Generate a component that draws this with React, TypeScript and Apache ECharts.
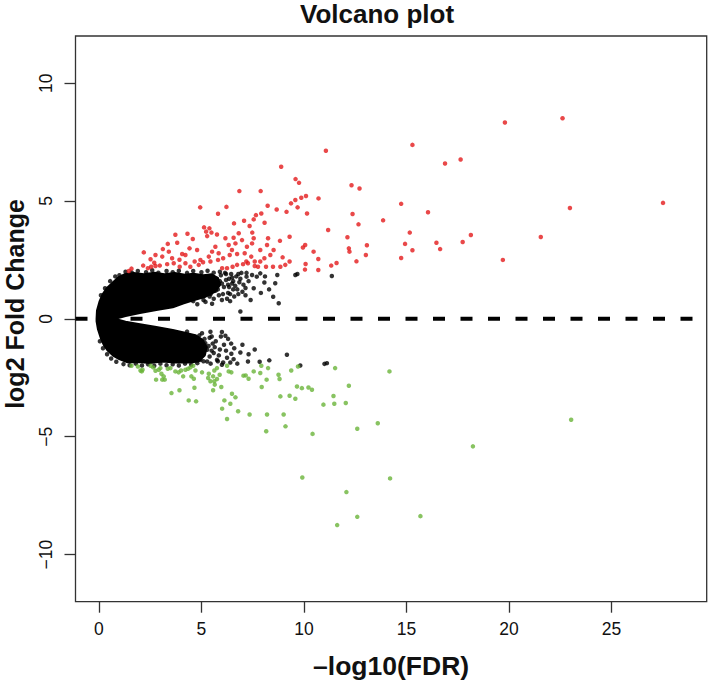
import React, { useEffect, useRef } from "react";
import * as echarts from "echarts";

const X_MIN = -1.14;
const X_MAX = 29.64;
const Y_MIN = -12;
const Y_MAX = 12;
const xTicks = [0, 5, 10, 15, 20, 25];
const yTicks = [-10, -5, 0, 5, 10];
const thresholdLine = [[X_MIN, 0], [X_MAX, 0]];

// up-regulated genes (red)
const upRegulated = [
  [11.07,7.13],[8.89,6.45],[9.59,5.93],[9.76,5.77],[6.85,5.42],[7.89,5.42],[12.32,5.67],[12.71,5.53],[10.1,5.21],[9.87,5.14],
  [9.58,5.04],[9.69,4.73],[9.37,4.9],[10.71,5.11],[8.23,4.8],[8.67,4.64],[4.94,4.73],[6.22,4.75],[5.81,4.46],[7.66,4.4],
  [7.55,4.22],[7.92,4.47],[7.08,4.16],[10.15,4.47],[9.15,4.54],[12.37,4.45],[12.66,4.01],[13.86,4.18],[11.18,3.77],[8.08,4.08],
  [6.59,4.05],[7.35,3.94],[3.73,3.57],[4.32,3.61],[5.13,3.88],[5.39,3.84],[5.23,3.7],[5.49,3.66],[4.58,3.39],[3.82,3.23],
  [5.28,3.51],[5.76,3.58],[6.17,3.42],[6.57,3.44],[6.82,3.63],[7.48,3.66],[7.55,3.42],[8.25,3.42],[9.3,3.48],[8.83,3.31],
  [12.12,3.46],[13.07,3.12],[12.19,2.99],[12.22,2.85],[10.06,3.13],[9.95,3.03],[10.47,2.85],[13.02,2.71],[12.56,2.44],[10.7,2.54],
  [11.33,2.26],[11.59,2.37],[10.08,2.33],[10.05,2.09],[10.7,2.07],[8.96,2.61],[9.3,2.43],[8.85,2.21],[8.15,2.21],[7.87,2.43],
  [8.07,2.57],[7.6,2.43],[7.43,2.64],[7.6,2.24],[7.19,2.43],[7.11,2.78],[6.74,2.75],[6.38,2.71],[6.06,2.57],[5.84,2.78],
  [5.81,2.5],[5.44,2.43],[4.95,2.5],[4.79,2.92],[4.42,2.99],[4.22,2.71],[4.06,2.75],[3.93,2.51],[3.57,2.57],[3.41,2.85],
  [3.36,3.18],[3.12,2.96],[3.09,2.64],[2.76,2.71],[2.52,2.53],[2.7,2.38],[2.19,2.82],[2.16,2.26],[2.39,2.15],[2.55,2.21],
  [2.76,2.24],[2.97,2.26],[1.59,2.13],[1.46,2.03],[3.33,2.32],[3.65,2.36],[3.94,2.21],[4.22,2.36],[4.46,2.21],[4.67,2.43],
  [4.87,2.29],[5.08,2.4],[5.36,2.64],[5.52,2.85],[5.68,3.06],[6.33,3.13],[6.49,2.92],[6.66,3.2],[6.98,3.34],[7.22,3.06],
  [7.47,3.2],[7.87,2.92],[8.2,3.13],[8.52,2.92],[8.36,2.71],[6.52,2.21],[6.74,2.29],[7.03,2.32],[6.25,2.15],[6.01,2.15],
  [7.27,2.36],[7.76,2.21],[8.49,2.21],[9.09,2.29],
  [19.8,8.33],[22.61,8.51],[15.29,7.38],[16.88,6.59],[17.64,6.76],[14.74,4.88],[27.51,4.92],[22.97,4.7],[16.05,4.52],[15.16,3.66],
  [14.93,3.18],[15.29,2.91],[14.74,2.58],[16.46,3.23],[16.64,2.96],[17.74,3.26],[18.14,3.56],[21.55,3.47],[19.7,2.5]
];

// down-regulated genes (green)
const downRegulated = [
  [1.59,-1.99],[1.9,-2.02],[2.03,-2.19],[2.13,-2.16],[2.09,-2.23],[2.52,-1.99],[2.65,-2.06],[2.76,-2.2],[2.92,-2.16],[3.0,-2.09],
  [3.05,-2.33],[3.16,-2.44],[3.09,-2.58],[2.79,-2.58],[3.21,-2.58],[3.36,-2.12],[3.49,-2.09],[3.73,-2.23],[3.89,-2.27],[4.01,-2.19],
  [4.22,-2.16],[4.35,-2.12],[4.46,-2.06],[4.6,-1.99],[4.71,-2.19],[4.11,-2.44],[4.51,-2.44],[4.63,-2.54],[5.03,-2.27],[5.36,-2.33],
  [5.57,-2.44],[5.63,-2.19],[5.76,-2.09],[6.25,-1.99],[6.33,-2.23],[6.46,-2.27],[5.89,-2.37],[5.33,-2.51],[5.44,-2.65],[5.63,-2.65],
  [5.76,-2.55],[5.97,-2.89],[5.57,-3.03],[5.65,-2.79],[4.66,-2.92],[3.93,-3.03],[3.54,-3.15],[4.38,-3.46],[4.74,-3.5],[6.12,-3.46],
  [6.01,-3.81],[6.25,-4.25],[6.41,-3.6],[6.49,-3.18],[6.66,-3.33],[6.79,-3.92],[7.05,-2.41],[7.16,-2.4],[7.3,-2.54],[7.55,-2.23],
  [7.87,-2.3],[7.94,-2.89],[8.18,-2.58],[8.25,-2.09],[7.92,-1.99],[8.76,-2.37],[8.81,-2.55],[8.85,-3.29],[9.3,-3.26],[9.38,-2.19],
  [9.58,-3.39],[9.71,-2.02],[9.66,-2.87],[9.9,-2.94],[10.22,-2.91],[10.39,-3.01],[10.95,-3.64],[11.44,-3.27],[11.48,-3.6],[11.52,-2.09],
  [12.04,-3.57],[12.19,-2.84],[7.35,-4.06],[8.2,-4.06],[9.01,-4.06],[8.16,-4.77],[9.1,-4.56],[10.42,-4.88],[12.6,-4.66],[13.6,-4.43],
  [14.17,-2.23],[23.03,-4.28],[18.24,-5.41],[14.2,-6.77],[15.68,-8.37],[9.92,-6.73],[12.07,-7.35],[12.6,-8.4],[11.62,-8.75]
];

// non-significant genes outside the saturated core (black)
const notSignificant = [
  [1.0,1.85],[1.3,2.0],[1.6,1.97],[1.9,2.03],[2.3,1.98],[2.6,2.06],[2.9,1.96],[3.3,2.03],[3.6,1.98],[3.9,2.04],
  [4.3,1.95],[4.6,2.03],[5.0,1.98],[5.3,2.04],[5.6,1.96],[5.9,2.0],[6.2,1.9],[6.35,1.7],[6.5,1.5],[6.55,1.25],
  [6.4,1.05],[5.9,1.6],[6.1,1.35],[5.7,1.2],[5.85,1.0],[5.4,0.95],[6.0,0.8],[5.2,0.72],[4.8,0.62],[6.3,1.1],
  [4.6,0.75],[4.9,1.1],[5.0,1.55],[5.1,0.8],[5.25,1.3],[5.35,1.75],[5.45,1.05],[5.55,1.45],[5.6,0.85],[5.75,1.7],
  [5.8,1.25],[5.95,1.85],[6.0,1.5],[6.05,1.05],[6.2,1.65],[6.25,0.85],[6.35,1.35],[6.45,1.9],[6.55,1.6],[6.6,0.95],
  [6.7,1.8],[6.75,1.25],[6.85,1.55],[6.95,1.95],[7.0,1.15],[7.3,1.6],[7.4,0.8],[7.55,1.3],[7.9,1.1],[8.1,1.8],[8.3,1.25],
  [6.15,1.95],[6.3,1.45],[6.5,1.75],[6.65,1.4],[6.8,1.9],[6.9,1.7],[7.05,1.45],[6.4,0.75],[6.8,1.05],[7.2,1.95],
  [6.9,0.31],[7.15,1.31],[7.15,1.0],[7.2,1.79],[7.7,1.79],[8.07,1.54],[8.5,0.94],[8.77,0.66],[8.6,1.51],[8.7,1.86],
  [9.58,1.86],[9.68,1.9],[11.36,1.82],[7.87,1.93],[7.47,1.86],[5.52,0.64],
  [1.2,-1.92],[1.5,-1.97],[1.8,-1.9],[2.1,-1.98],[2.4,-1.93],[2.7,-1.99],[3.0,-1.9],[3.3,-1.97],[3.6,-1.93],[3.9,-1.98],
  [4.2,-1.9],[4.5,-1.95],[4.8,-1.88],[5.1,-1.8],[5.4,-1.6],[5.5,-1.35],[5.55,-1.05],[5.4,-0.8],
  [4.6,-0.9],[4.75,-1.3],[4.85,-1.55],[4.9,-0.7],[5.0,-1.15],[5.1,-1.45],[5.15,-0.85],[5.35,-1.15],[5.45,-1.9],[5.5,-0.75],
  [5.65,-1.2],[5.7,-0.95],[5.85,-1.55],[5.9,-1.3],[6.0,-1.95],[6.1,-1.1],[6.25,-1.65],[6.3,-0.85],[6.6,-1.25],[6.75,-1.9],
  [7.0,-1.1],[7.3,-1.5],[7.6,-1.3],[5.8,-1.8],[6.2,-1.35],[6.45,-1.05],[5.95,-0.75],
  [6.0,-0.56],[6.17,-0.72],[5.44,-0.55],[6.46,-1.48],[6.9,-1.43],[6.57,-1.71],[6.41,-1.85],[6.06,-1.85],[7.27,-1.81],[7.84,-1.82],
  [8.31,-1.76],[9.17,-1.52],[9.82,-1.98],[11.0,-1.91],[11.12,-1.88],[5.19,-1.03],[5.28,-1.31],[5.6,-1.45],[5.76,-1.74],[5.03,-0.61],
  [4.3,-0.54],[4.63,-0.75],[4.95,-1.74],[5.28,-1.81],[4.63,-1.66],
  [0.05,-0.95],[0.2,-1.25],[0.4,-1.5],[0.6,-1.68],[0.85,-1.82],[0.1,1.0],[0.3,1.3],[0.55,1.6],[0.8,1.8]
];

// outline of the saturated (overplotted) core of non-significant genes
const denseCore = [
  [-0.1,0.0],[-0.08,0.35],[0.05,0.75],[0.2,1.05],[0.4,1.3],[0.65,1.5],[0.95,1.75],[1.25,1.88],[1.7,1.93],[2.2,1.88],
  [2.7,1.95],[3.2,1.88],[3.7,1.93],[4.2,1.86],[4.6,1.9],[5.1,1.84],[5.5,1.88],[5.8,1.72],[5.9,1.45],[5.65,1.15],
  [5.2,0.95],[4.6,0.8],[4.1,0.66],[3.6,0.5],[2.8,0.38],[2.0,0.26],[1.3,0.13],[0.75,0.0],
  [1.3,-0.13],[2.0,-0.24],[2.8,-0.36],[3.6,-0.48],[4.2,-0.6],[4.7,-0.7],[5.05,-0.9],[5.25,-1.2],[5.15,-1.55],[4.85,-1.8],
  [4.4,-1.84],[3.7,-1.84],[3.1,-1.8],[2.5,-1.86],[1.9,-1.82],[1.4,-1.83],[1.0,-1.7],[0.7,-1.55],[0.45,-1.35],[0.25,-1.1],
  [0.1,-0.8],[-0.03,-0.45],[-0.1,-0.1]
];

const FONT = "'Liberation Sans', Arial, Helvetica, sans-serif";
const AXIS_COLOR = "#333333";
const fmt = (v: number) => (v < 0 ? "\u2212" + Math.abs(v) : String(v));

export default function App() {
  const ref = useRef<HTMLDivElement>(null);
  useEffect(() => {
    if (!ref.current) return;
    const chart = echarts.init(ref.current, null, { renderer: "svg" });
    const GL = 75.5, GT = 36, GW = 631.2, GH = 565.7;
    chart.setOption({
      animation: false,
      backgroundColor: "#ffffff",
      grid: { left: GL, top: GT, width: GW, height: GH, show: true, borderColor: AXIS_COLOR, borderWidth: 1.3, backgroundColor: "transparent" },
      xAxis: {
        type: "value", min: X_MIN, max: X_MAX,
        axisLine: { show: false, onZero: false },
        splitLine: { show: false },
        axisTick: { show: true, inside: false, length: 11, customValues: xTicks, lineStyle: { color: AXIS_COLOR, width: 1.3 } },
        axisLabel: { show: true, customValues: xTicks, margin: 18, color: "#111", fontSize: 17.5, fontFamily: FONT, formatter: fmt }
      },
      yAxis: {
        type: "value", min: Y_MIN, max: Y_MAX,
        axisLine: { show: false, onZero: false },
        splitLine: { show: false },
        axisTick: { show: true, inside: false, length: 11, customValues: yTicks, lineStyle: { color: AXIS_COLOR, width: 1.3 } },
        axisLabel: { show: true, customValues: yTicks, rotate: 90, margin: 21, color: "#111", fontSize: 17.5, fontFamily: FONT, formatter: fmt }
      },
      graphic: [
        { type: "text", x: 377, y: 14, style: { text: "Volcano plot", font: `bold 26px ${FONT}`, fill: "#111", textAlign: "center", textVerticalAlign: "middle" } },
        { type: "text", x: GL + GW / 2, y: 666, style: { text: "\u2013log10(FDR)", font: `bold 26.5px ${FONT}`, fill: "#111", textAlign: "center", textVerticalAlign: "middle" } },
        { type: "text", x: 15, y: 304, rotation: Math.PI / 2, style: { text: "log2 Fold Change", font: `bold 25px ${FONT}`, fill: "#111", textAlign: "center", textVerticalAlign: "middle" } }
      ],
      series: [
        {
          type: "custom", silent: true, z: 1, clip: true,
          data: [0],
          renderItem: (_p: any, api: any) => ({
            type: "polygon",
            shape: { points: denseCore.map((pt) => api.coord(pt)) },
            style: { fill: "#000", stroke: "#000", lineWidth: 2.5, lineJoin: "round" }
          })
        },
        { type: "scatter", silent: true, z: 2, symbol: "circle", symbolSize: 4.5, itemStyle: { color: "#000" }, data: notSignificant },
        { type: "scatter", silent: true, z: 3, symbol: "circle", symbolSize: 4.5, itemStyle: { color: "#e41a1c" }, data: upRegulated },
        { type: "scatter", silent: true, z: 3, symbol: "circle", symbolSize: 4.5, itemStyle: { color: "#6ab43a" }, data: downRegulated },
        {
          type: "line", silent: true, z: 4, symbol: "none", clip: true, data: thresholdLine,
          lineStyle: { color: "#000", width: 4, type: [12, 15.5], cap: "butt" }
        }
      ]
    });
    return () => chart.dispose();
  }, []);
  return <div ref={ref} style={{ position: "fixed", left: 0, top: 0, width: 709, height: 683, background: "#fff" }} />;
}
